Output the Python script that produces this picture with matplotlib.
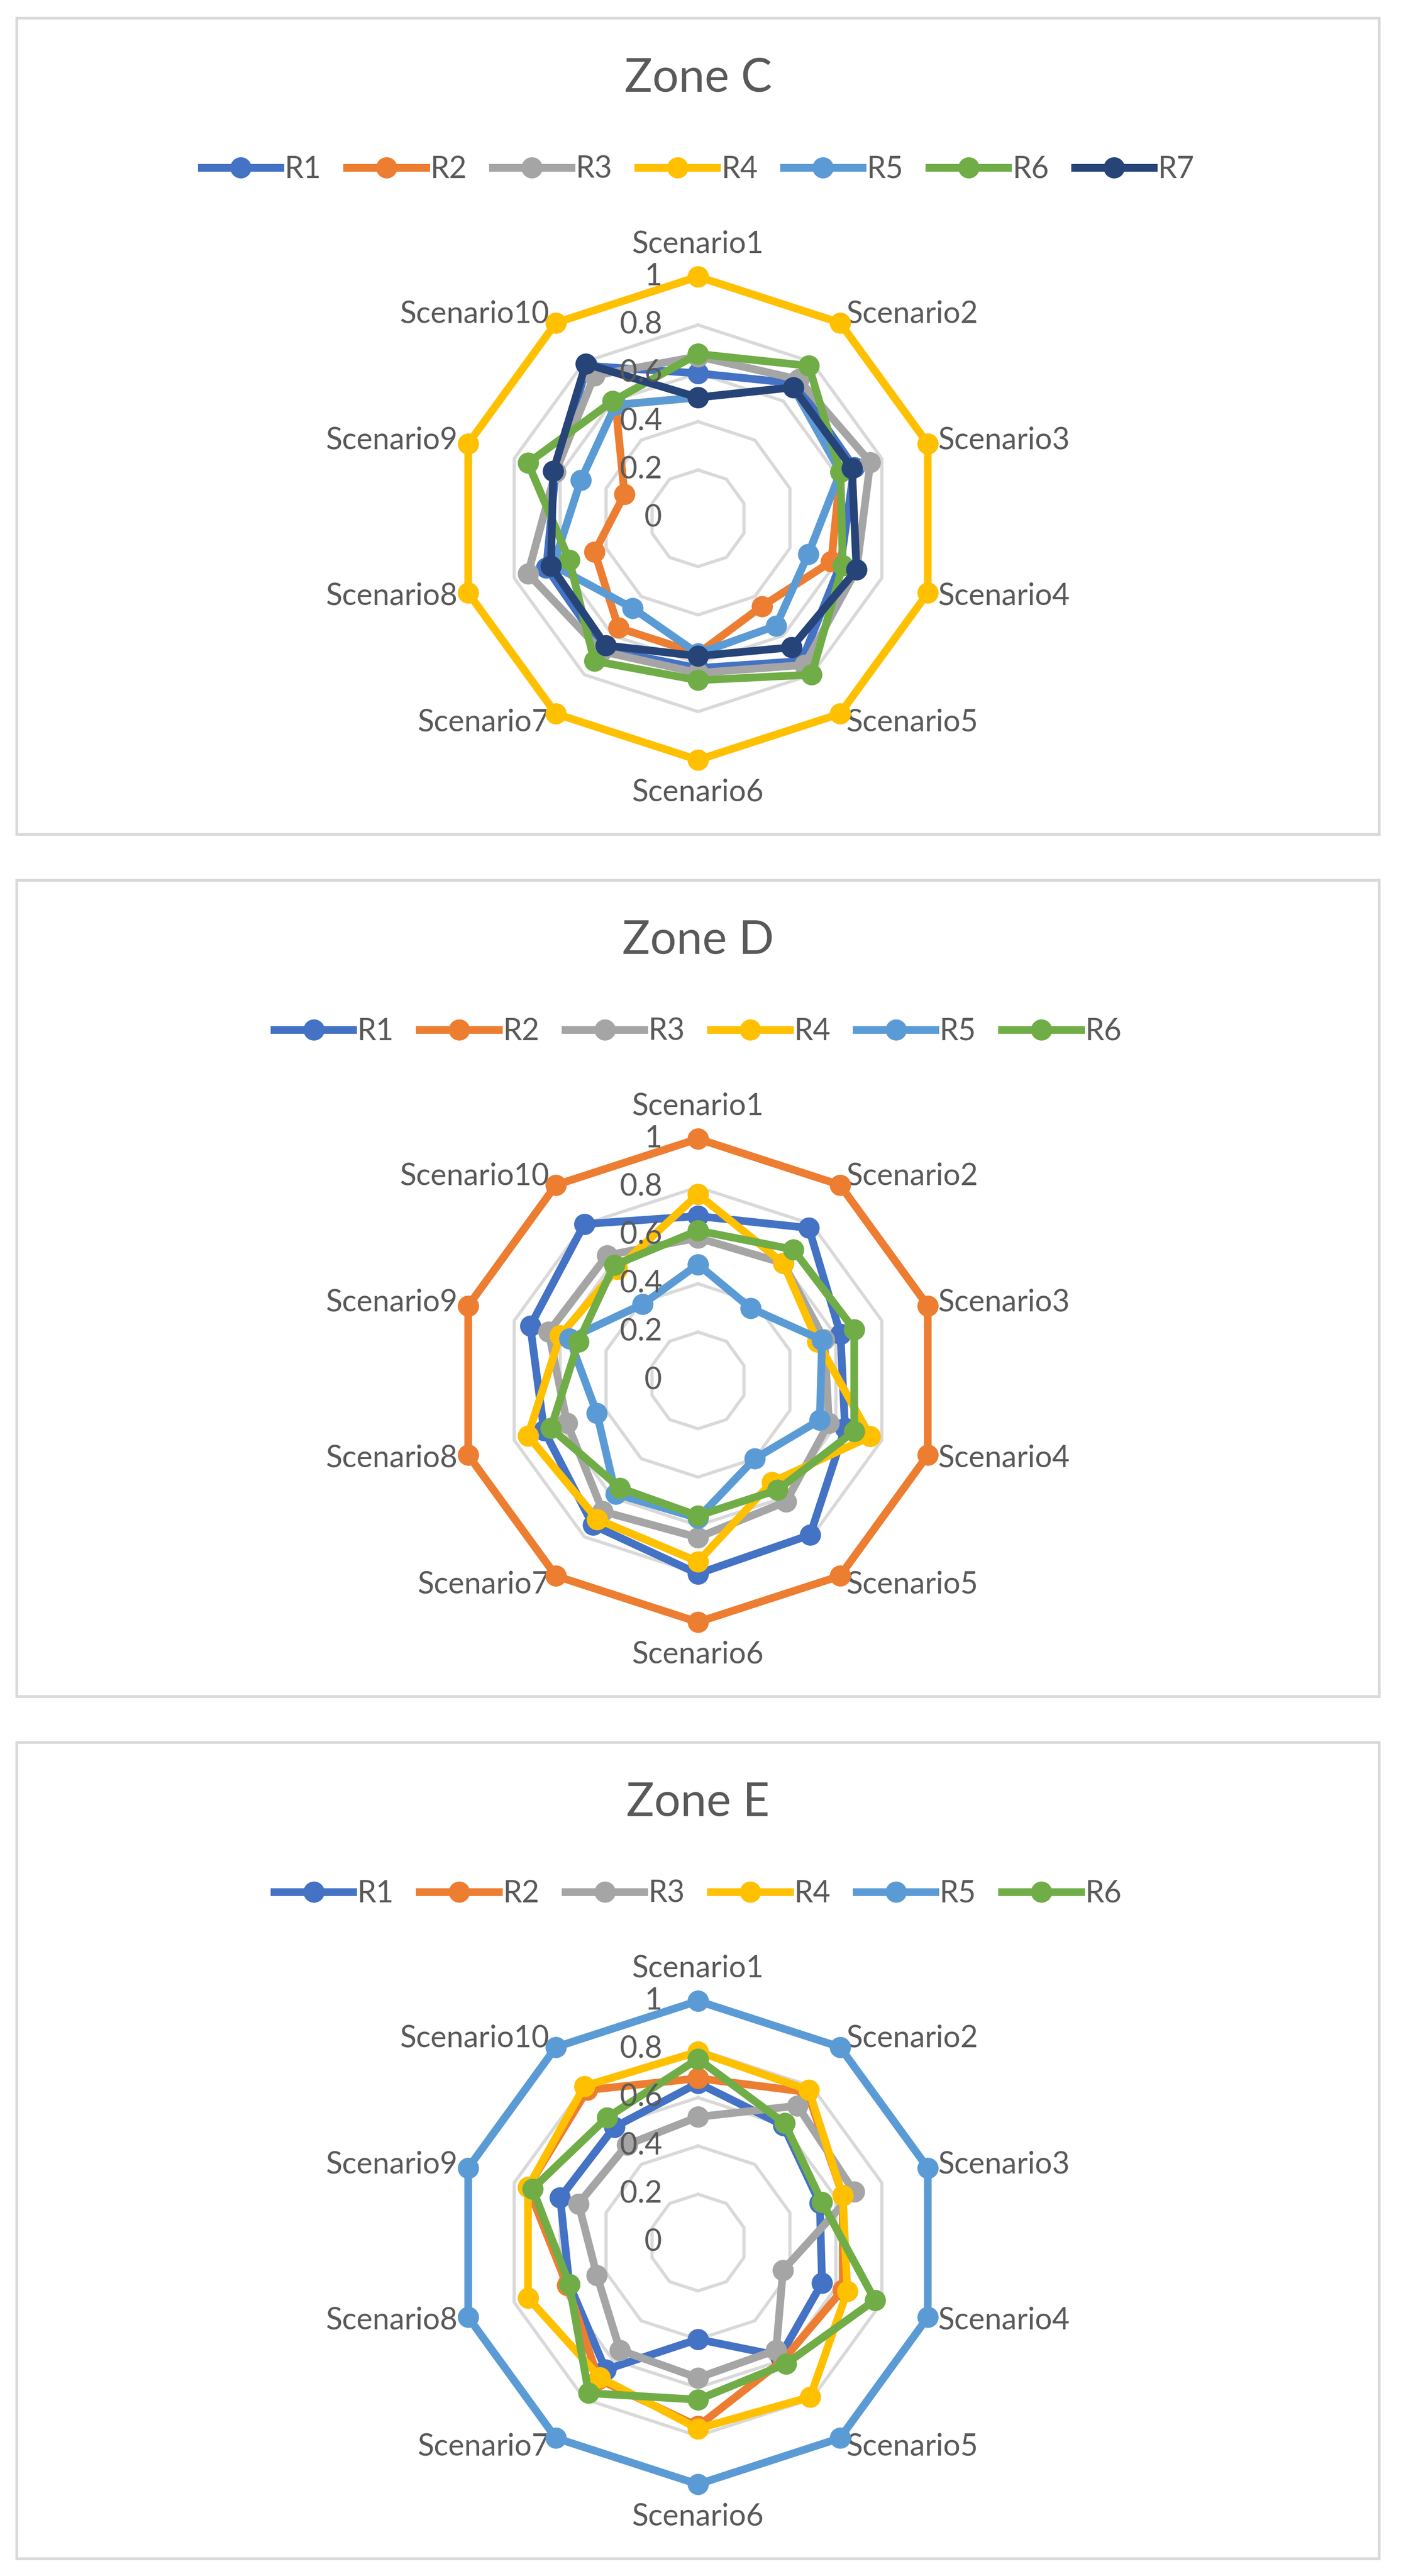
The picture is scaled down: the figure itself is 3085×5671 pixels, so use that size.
import numpy as np
import matplotlib
matplotlib.use("Agg")
import matplotlib.pyplot as plt
from matplotlib.patches import Rectangle
from matplotlib.transforms import ScaledTranslation

plt.rcParams['font.family'] = ['Lato', 'DejaVu Sans']

# ---------------- data ----------------
categories = ["Scenario1", "Scenario2", "Scenario3", "Scenario4", "Scenario5",
              "Scenario6", "Scenario7", "Scenario8", "Scenario9", "Scenario10"]
tick_values = [0, 0.2, 0.4, 0.6, 0.8, 1.0]
tick_labels = ["0", "0.2", "0.4", "0.6", "0.8", "1"]

zone_titles = ["Zone C", "Zone D", "Zone E"]

zoneC_names = ["R1", "R2", "R3", "R4", "R5", "R6", "R7"]
zoneC_R1 = [0.60, 0.69, 0.68, 0.62, 0.73, 0.62, 0.67, 0.66, 0.62, 0.78]
zoneC_R2 = [0.50, 0.67, 0.62, 0.58, 0.45, 0.56, 0.56, 0.45, 0.32, 0.58]
zoneC_R3 = [0.67, 0.71, 0.75, 0.69, 0.75, 0.64, 0.68, 0.74, 0.62, 0.73]
zoneC_R4 = [1.00, 1.00, 1.00, 1.00, 1.00, 1.00, 1.00, 1.00, 1.00, 1.00]
zoneC_R5 = [0.50, 0.67, 0.62, 0.48, 0.55, 0.56, 0.46, 0.63, 0.51, 0.58]
zoneC_R6 = [0.68, 0.78, 0.62, 0.63, 0.80, 0.67, 0.73, 0.56, 0.74, 0.60]
zoneC_R7 = [0.50, 0.67, 0.67, 0.69, 0.66, 0.57, 0.65, 0.64, 0.63, 0.79]

zoneD_names = ["R1", "R2", "R3", "R4", "R5", "R6"]
zoneD_R1 = [0.68, 0.78, 0.62, 0.64, 0.79, 0.80, 0.74, 0.67, 0.73, 0.80]
zoneD_R2 = [1.00, 1.00, 1.00, 1.00, 1.00, 1.00, 1.00, 1.00, 1.00, 1.00]
zoneD_R3 = [0.59, 0.60, 0.55, 0.57, 0.62, 0.65, 0.67, 0.57, 0.65, 0.64]
zoneD_R4 = [0.77, 0.60, 0.52, 0.75, 0.52, 0.75, 0.71, 0.74, 0.60, 0.57]
zoneD_R5 = [0.48, 0.37, 0.54, 0.53, 0.40, 0.57, 0.58, 0.44, 0.56, 0.39]
zoneD_R6 = [0.62, 0.67, 0.68, 0.68, 0.56, 0.56, 0.55, 0.64, 0.52, 0.59]

zoneE_names = ["R1", "R2", "R3", "R4", "R5", "R6"]
zoneE_R1 = [0.66, 0.60, 0.53, 0.54, 0.58, 0.40, 0.65, 0.56, 0.60, 0.59]
zoneE_R2 = [0.68, 0.77, 0.63, 0.63, 0.60, 0.76, 0.70, 0.57, 0.74, 0.78]
zoneE_R3 = [0.52, 0.70, 0.68, 0.37, 0.55, 0.56, 0.55, 0.44, 0.52, 0.50]
zoneE_R4 = [0.79, 0.78, 0.63, 0.65, 0.79, 0.77, 0.69, 0.74, 0.74, 0.80]
zoneE_R5 = [1.00, 1.00, 1.00, 1.00, 1.00, 1.00, 1.00, 1.00, 1.00, 1.00]
zoneE_R6 = [0.76, 0.61, 0.54, 0.77, 0.62, 0.65, 0.77, 0.56, 0.72, 0.64]

series_colors = ["#4472C4", "#ED7D31", "#A5A5A5", "#FFC000", "#5B9BD5", "#70AD47", "#264478"]

zones = [
    (zone_titles[0], zoneC_names, [zoneC_R1, zoneC_R2, zoneC_R3, zoneC_R4, zoneC_R5, zoneC_R6, zoneC_R7]),
    (zone_titles[1], zoneD_names, [zoneD_R1, zoneD_R2, zoneD_R3, zoneD_R4, zoneD_R5, zoneD_R6]),
    (zone_titles[2], zoneE_names, [zoneE_R1, zoneE_R2, zoneE_R3, zoneE_R4, zoneE_R5, zoneE_R6]),
]

# ---------------- layout ----------------
W, H, DPI = 3085, 5671, 300
fig = plt.figure(figsize=(W / DPI, H / DPI), dpi=DPI)
fig.patch.set_facecolor("white")

TXT = "#595959"
GRID = "#D9D9D9"
panel_tops = [40, 1938, 3836]
panel_h = 1797
panel_left, panel_right = 37, 3037
cx = 1537
R = 532
px2pt = 72.0 / DPI

lab_fs = 16
title_fs = 24.5

n = len(categories)
theta = np.linspace(0, 2 * np.pi, n, endpoint=False)
theta_closed = np.concatenate([theta, theta[:1]])

for (title, names, data), top in zip(zones, panel_tops):
    # panel border
    fig.patches.append(Rectangle((panel_left / W, 1 - (top + panel_h) / H),
                                 (panel_right - panel_left) / W, panel_h / H,
                                 transform=fig.transFigure, fill=False,
                                 edgecolor=GRID, linewidth=6 * px2pt, zorder=0))
    # title
    fig.text(cx / W, 1 - (top + 132) / H, title, ha="center", va="center",
             fontsize=title_fs, color=TXT)

    cy = top + 1101
    ax = fig.add_axes([(cx - R) / W, 1 - (cy + R) / H, 2 * R / W, 2 * R / H],
                      projection="polar")
    ax.set_theta_zero_location("N")
    ax.set_theta_direction(-1)
    ax.set_ylim(0, 1)
    ax.grid(False)
    ax.set_xticks([])
    ax.set_yticks([])
    ax.spines["polar"].set_visible(False)
    ax.patch.set_visible(False)

    # polygon gridlines
    for tv in tick_values[1:]:
        ax.plot(theta_closed, [tv] * (n + 1), color=GRID, lw=7 * px2pt,
                zorder=1, clip_on=False)

    # value labels
    off = ax.transData + ScaledTranslation(-79 / DPI, 0, fig.dpi_scale_trans)
    for tv, tl in zip(tick_values, tick_labels):
        ax.text(0, tv, tl, transform=off, ha="right", va="center",
                fontsize=lab_fs, color=TXT, zorder=5)

    # category labels
    for k, (th, cat) in enumerate(zip(theta, categories)):
        if k == 0 or k == n // 2:
            ax.text(th, 1.135, cat, ha="center", va="center", fontsize=lab_fs, color=TXT)
        elif k < n // 2:
            ax.text(th, 1.045, cat, ha="left", va="center", fontsize=lab_fs, color=TXT)
        else:
            ax.text(th, 1.045, cat, ha="right", va="center", fontsize=lab_fs, color=TXT)

    # series
    handles = []
    for i, (nm, vals) in enumerate(zip(names, data)):
        v = list(vals) + [vals[0]]
        ln, = ax.plot(theta_closed, v, color=series_colors[i], lw=17 * px2pt,
                      marker="o", markersize=11.2, markeredgewidth=0,
                      solid_joinstyle="round", label=nm, zorder=3 + i * 0.01,
                      clip_on=False)
        handles.append(ln)

    leg = fig.legend(handles=handles, labels=names, loc="center",
                     bbox_to_anchor=(cx / W, 1 - (top + 333) / H),
                     ncol=len(names), frameon=False, fontsize=lab_fs,
                     handlelength=2.6, handletextpad=0.15, columnspacing=0.85,
                     borderpad=0, borderaxespad=0)
    for t in leg.get_texts():
        t.set_color(TXT)

fig.savefig("out.png", dpi=DPI, facecolor="white")
